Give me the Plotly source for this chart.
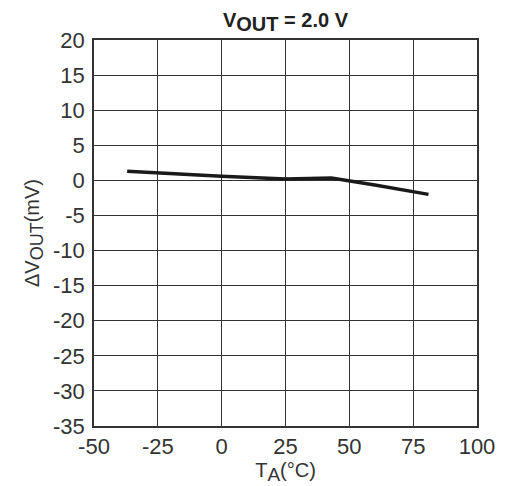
import plotly.graph_objects as go

temp_c = [-37, -25, 0, 25, 43, 60, 81]
dvout_mv = [1.3, 1.05, 0.6, 0.2, 0.35, -0.65, -2.0]
x_ticks = [-50, -25, 0, 25, 50, 75, 100]
y_ticks = [20, 15, 10, 5, 0, -5, -10, -15, -20, -25, -30, -35]

FAM = "Liberation Sans, Arial, sans-serif"
fig = go.Figure()
fig.add_trace(go.Scatter(x=temp_c, y=dvout_mv, mode="lines",
                         line=dict(color="#1a1a1a", width=3.5), showlegend=False))

tick_font = dict(family=FAM, size=22, color="#333333")
title_font = dict(family=FAM, size=20, color="#333333")
fig.update_layout(
    width=499, height=478,
    margin=dict(l=86, r=26, t=32, b=60),
    paper_bgcolor="white", plot_bgcolor="white",
    font=tick_font,
    title=dict(text="<b>V<sub><span style='font-size:20px'>OUT</span></sub> = 2.0 V</b>",
               x=0.5, xref="paper", xanchor="center",
               y=1.0, yref="paper", yanchor="bottom", pad=dict(b=13),
               font=dict(family=FAM, size=20, color="#222222")),
)
fig.update_xaxes(range=[-50, 100], tickvals=x_ticks, ticktext=[str(v) for v in x_ticks],
                 showgrid=True, gridcolor="#333333", gridwidth=1,
                 showline=True, linecolor="#333333", linewidth=1.5, mirror=True,
                 ticks="", zeroline=False, tickfont=tick_font,
                 title=dict(text="T<sub><span style='font-size:19px'>A</span></sub>(°C)",
                            standoff=0, font=title_font))
fig.update_yaxes(range=[-35, 20], tickvals=y_ticks, ticktext=[str(v) for v in y_ticks],
                 showgrid=True, gridcolor="#333333", gridwidth=1,
                 showline=True, linecolor="#333333", linewidth=1.5, mirror=True,
                 ticks="outside", ticklen=3, tickcolor="rgba(0,0,0,0)", zeroline=False,
                 tickfont=tick_font,
                 title=dict(text="ΔV<sub><span style='font-size:18px'>OUT</span></sub>(mV)",
                            standoff=8, font=title_font))
fig.write_html("out.html")
